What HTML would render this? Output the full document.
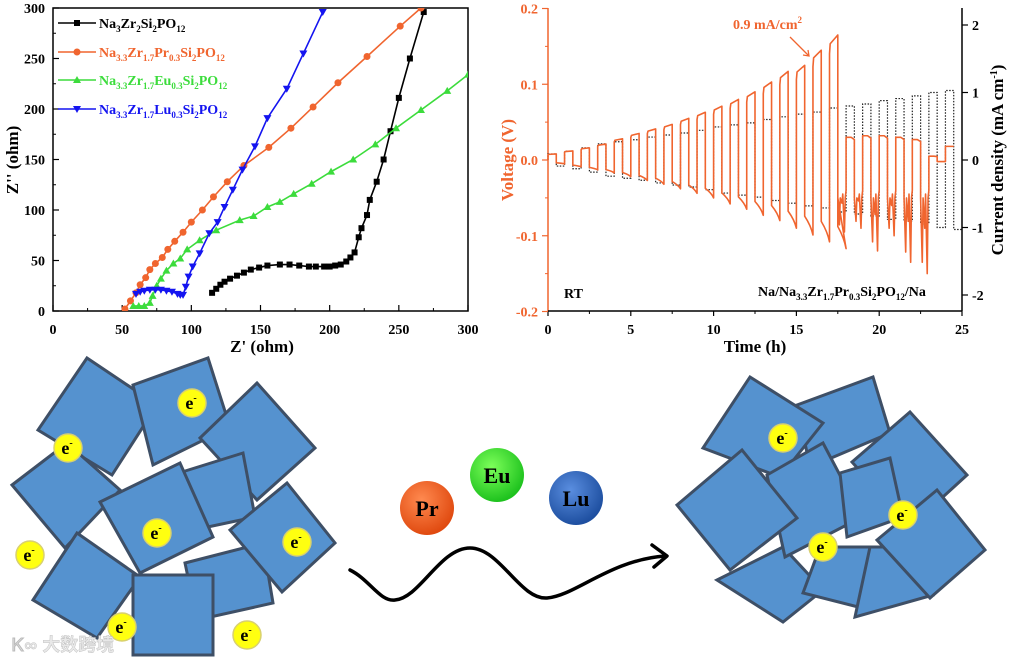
<!DOCTYPE html>
<html><head><meta charset="utf-8">
<style>
html,body{margin:0;padding:0;background:#fff;}
svg{display:block;font-family:"Liberation Serif",serif;font-weight:bold;}
</style></head>
<body>
<svg id="fig" width="1013" height="663" viewBox="0 0 1013 663" xmlns="http://www.w3.org/2000/svg">
<g id="eis"></g>
<g id="cyc"></g>
<g id="illus"></g>
</svg>
<script>
// ---------- EIS data (ohm) ----------
const blackX=[115,118,121,124,128,133,138,143,149,155,164,171,178,185,190,196,200,204,208,212,215,218,221,223,227,229,234,239,244,250,258,268];
const blackY=[18,22,26,29,32,35,38,41,43,45,46,46,45,44,44,44,44,45,46,49,53,58,73,82,95,110,128,150,178,211,250,296];
const orangeX=[52,56,60,63,67,70,74,79,83,88,94,100,108,116,126,138,156,172,188,206,227,251,266];
const orangeY=[2,10,18,26,33,41,47,53,61,69,78,88,100,113,128,144,162,181,202,226,252,282,300];
const greenX=[58,62,66,70,72,75,78,82,87,92,97,106,118,135,145,155,164,174,187,201,217,233,248,266,285,300];
const greenY=[5,5,5,8,15,25,32,40,47,52,61,70,80,90,94,103,108,116,126,138,150,165,181,199,218,234];
const blueX=[60,63,66,70,74,78,82,86,90,92,94,96,98,101,106,113,119,124,130,137,146,155,169,181,195];
const blueY=[17,19,20,21,21,21,20,19,17,16,16,24,34,44,57,77,88,103,120,140,163,191,220,255,296];
const eisTicks=[0,50,100,150,200,250,300];

// ---------- cycling data ----------
const posPeak=[0.008,0.012,0.016,0.021,0.028,0.035,0.041,0.047,0.055,0.063,0.071,0.080,0.090,0.103,0.117,0.125,0.145,0.165];
const negPeak=[-0.005,-0.009,-0.013,-0.017,-0.022,-0.027,-0.032,-0.038,-0.044,-0.050,-0.058,-0.065,-0.073,-0.080,-0.090,-0.099,-0.108,-0.117];
const currAmp=[0.09,0.13,0.18,0.24,0.27,0.30,0.34,0.37,0.40,0.44,0.49,0.52,0.55,0.60,0.64,0.68,0.71,0.77,0.80,0.83,0.88,0.91,0.95,1.00,1.03];
const postPlateau=[0.03,0.032,0.032,0.03,0.027,0.005,0.018];
const postSpike=[-0.095,-0.09,-0.12,-0.10,-0.135,-0.15,-0.002];
const timeTicks=[0,5,10,15,20,25];
const voltTicks=[0.2,0.1,0.0,-0.1,-0.2];
const currTicks=[2,1,0,-1,-2];

const NS="http://www.w3.org/2000/svg";
function mk(parent,tag,attrs,text){const e=document.createElementNS(NS,tag);for(const k in attrs)e.setAttribute(k,attrs[k]);if(text!==undefined)e.textContent=text;parent.appendChild(e);return e;}

// ===== EIS chart =====
const eis=document.getElementById('eis');
const lx=v=>53+v*415/300, ly=v=>311-v*303/300;
let fr=mk(eis,'rect',{x:53,y:8,width:415,height:303,fill:'none',stroke:'#000','stroke-width':1.5});


eisTicks.forEach((t,i)=>{
  let a=mk(eis,'line',{x1:lx(t),x2:lx(t),y1:311,y2:305,stroke:'#000','stroke-width':1.2});
  
  let tl=mk(eis,'text',{x:lx(t),y:334,'font-size':14,'text-anchor':'middle'},String(t));
  
  let b=mk(eis,'line',{x1:53,x2:59,y1:ly(t),y2:ly(t),stroke:'#000','stroke-width':1.2});
  
  let yl=mk(eis,'text',{x:45,y:ly(t)+5,'font-size':14,'text-anchor':'end'},String(t));
  
  if(i<eisTicks.length-1){const m=t+25;
    let c=mk(eis,'line',{x1:lx(m),x2:lx(m),y1:311,y2:308,stroke:'#000'});
    let d=mk(eis,'line',{x1:53,x2:56,y1:ly(m),y2:ly(m),stroke:'#000'});}
});
let xt=mk(eis,'text',{x:262,y:352,'font-size':17,'text-anchor':'middle'},"Z' (ohm)");

let yt=mk(eis,'text',{x:18,y:160,'font-size':17,'text-anchor':'middle',transform:'rotate(-90 18 160)'},"Z'' (ohm)");


function marker(g,type,x,y,col){
  let m;
  if(type==='sq') m=mk(g,'rect',{x:x-3,y:y-3,width:6,height:6,fill:col});
  else if(type==='ci') m=mk(g,'circle',{cx:x,cy:y,r:3.5,fill:col});
  else if(type==='up') m=mk(g,'path',{d:`M${x} ${y-4}L${x+4} ${y+3}L${x-4} ${y+3}Z`,fill:col});
  else m=mk(g,'path',{d:`M${x} ${y+4}L${x+4} ${y-3}L${x-4} ${y-3}Z`,fill:col});
  
  
}
const series=[
 {n:'na3zr2',X:blackX,Y:blackY,c:'#000',m:'sq'},
 {n:'pr-doped',X:orangeX,Y:orangeY,c:'#f0652f',m:'ci'},
 {n:'eu-doped',X:greenX,Y:greenY,c:'#3cdc3c',m:'up'},
 {n:'lu-doped',X:blueX,Y:blueY,c:'#1414f0',m:'dn'}];
const clip=mk(eis,'clipPath',{id:'eclip'});mk(clip,'rect',{x:53,y:8,width:415,height:303});
series.forEach(s=>{
  const g=mk(eis,'g',{'clip-path':'url(#eclip)'});
  
  
  const pl=mk(g,'polyline',{points:s.X.map((x,i)=>lx(x)+','+ly(s.Y[i])).join(' '),fill:'none',stroke:s.c,'stroke-width':1.6});
  
  s.X.forEach((x,i)=>marker(g,s.m,lx(x),ly(s.Y[i]),s.c));
});
// legend
const legendLbl=[['Na','3','Zr','2','Si','2','PO','12'],['Na','3.3','Zr','1.7','Pr','0.3','Si','2','PO','12'],['Na','3.3','Zr','1.7','Eu','0.3','Si','2','PO','12'],['Na','3.3','Zr','1.7','Lu','0.3','Si','2','PO','12']];
const legY=[23,52,80,109];
series.forEach((s,i)=>{
  const g=mk(eis,'g',{});
  
  
  mk(g,'line',{x1:58,x2:96,y1:legY[i],y2:legY[i],stroke:s.c,'stroke-width':1.6});
  marker(g,s.m,77,legY[i],s.c);
  const t=mk(g,'text',{x:99,y:legY[i]+5,'font-size':14,fill:s.c});
  legendLbl[i].forEach((p,j)=>{mk(t,'tspan',j%2?{'font-size':9,dy:4}:{dy:j?-4:0},p);});
});

// ===== cycling chart =====
const cyc=document.getElementById('cyc');
const rx=t=>548+t*414/25, rv=v=>160-v*757.5, rc=c=>160-c*67.5;
const OR='#f0652f';
let ax1=mk(cyc,'line',{x1:548,x2:548,y1:8,y2:311,stroke:OR,'stroke-width':1.5});
let ax2=mk(cyc,'line',{x1:962,x2:962,y1:8,y2:311,stroke:'#000','stroke-width':1.5});
let ax3=mk(cyc,'line',{x1:548,x2:962,y1:311,y2:311,stroke:'#000','stroke-width':1.5});
timeTicks.forEach(t=>{
  let a=mk(cyc,'line',{x1:rx(t),x2:rx(t),y1:311,y2:316,stroke:'#000','stroke-width':1.2});
  let l=mk(cyc,'text',{x:rx(t),y:334,'font-size':14,'text-anchor':'middle'},String(t));
  if(t<25){let m=mk(cyc,'line',{x1:rx(t+2.5),x2:rx(t+2.5),y1:311,y2:314,stroke:'#000'});}
});
voltTicks.forEach((v,i)=>{
  let a=mk(cyc,'line',{x1:542,x2:548,y1:rv(v),y2:rv(v),stroke:OR,'stroke-width':1.2});
  let l=mk(cyc,'text',{x:538,y:rv(v)+5,'font-size':14,'text-anchor':'end',fill:OR},v.toFixed(1));
  if(i<4){let m=mk(cyc,'line',{x1:545,x2:548,y1:rv(v-0.05),y2:rv(v-0.05),stroke:OR});}
});
currTicks.forEach(c=>{
  let a=mk(cyc,'line',{x1:962,x2:968,y1:rc(c),y2:rc(c),stroke:'#000','stroke-width':1.2});
  let l=mk(cyc,'text',{x:972,y:rc(c)+5,'font-size':14},String(c));
});
let tt=mk(cyc,'text',{x:755,y:352,'font-size':17,'text-anchor':'middle'},'Time (h)');
let vt=mk(cyc,'text',{x:513,y:160,'font-size':17,'text-anchor':'middle',fill:OR,transform:'rotate(-90 513 160)'},'Voltage (V)');
let ct=mk(cyc,'text',{x:1003,y:160,'font-size':17,'text-anchor':'middle',transform:'rotate(-90 1003 160)'});

mk(ct,'tspan',{},'Current density (mA cm');mk(ct,'tspan',{'font-size':10,dy:-6},'-1');mk(ct,'tspan',{dy:6},')');

// current (dotted)
let cp='M'+rx(0)+','+rc(0);
currAmp.forEach((c,k)=>{cp+=`L${rx(k)},${rc(c)}L${rx(k+0.5)},${rc(c)}L${rx(k+0.5)},${rc(-c)}L${rx(k+1)},${rc(-c)}`;});
let cpe=mk(cyc,'path',{d:cp,fill:'none',stroke:'#222','stroke-width':1.2,'stroke-dasharray':'1.5 1.5'});


// voltage
let vp='M'+rx(0)+','+rv(0);
posPeak.forEach((p,k)=>{
  const n=negPeak[k];
  vp+=`L${rx(k)},${rv(p*0.85)}L${rx(k+0.04)},${rv(p*0.93)}L${rx(k+0.5)},${rv(p)}`;
  vp+=`L${rx(k+0.5)},${rv(n*0.75)}C${rx(k+0.65)},${rv(n*0.8)} ${rx(k+0.88)},${rv(n*0.88)} ${rx(k+1)},${rv(n)}`;
});
const t0=posPeak.length;
postSpike.forEach((s,i)=>{
  const a=t0-0.5+i;
  if(i<6){
    vp+=`L${rx(a)},${rv(-0.05)}L${rx(a+0.1)},${rv(s*0.9)}L${rx(a+0.15)},${rv(-0.05)}L${rx(a+0.25)},${rv(s*0.6)}L${rx(a+0.3)},${rv(-0.045)}L${rx(a+0.4)},${rv(s)}L${rx(a+0.45)},${rv(-0.05)}L${rx(a+0.5)},${rv(-0.04)}`;
  } else {
    vp+=`L${rx(a)},${rv(s)}L${rx(a+0.5)},${rv(s)}`;
  }
  const pl=postPlateau[i];
  vp+=`L${rx(a+0.5)},${rv(pl)}L${rx(a+0.8)},${rv(pl)}L${rx(a+1)},${rv(pl*(i===6?1:0.9))}`;
});
let vpe=mk(cyc,'path',{d:vp,fill:'none',stroke:OR,'stroke-width':1.6,'stroke-linejoin':'round'});


let rt=mk(cyc,'text',{x:564,y:298,'font-size':14},'RT');
let cl=mk(cyc,'text',{x:758,y:296,'font-size':14});
[['Na/Na',0],['3.3',1],['Zr',0],['1.7',1],['Pr',0],['0.3',1],['Si',0],['2',1],['PO',0],['12',1],['/Na',0]].forEach(([p,s],j,arr)=>{
  const prev=j?arr[j-1][1]:0; let dy=0; if(s&&!prev)dy=4; if(!s&&prev)dy=-4;
  mk(cl,'tspan',s?{'font-size':9,dy:dy}:{dy:dy},p);});
let an=mk(cyc,'text',{x:733,y:29,'font-size':14,fill:OR});
mk(an,'tspan',{},'0.9 mA/cm');mk(an,'tspan',{'font-size':9,dy:-6},'2');
let ar=mk(cyc,'path',{d:'M790,37 L809,56 M803,55 L809,56 L808,50',fill:'none',stroke:OR,'stroke-width':1.3});

// ===== illustration =====
const il=document.getElementById('illus');
const defs=mk(il,'defs',{});
[['gPr','#ff8a50','#e04a10'],['gEu','#7dff5a','#1ec21e'],['gLu','#5a8ee0','#1e4fa0']].forEach(([id,a,b])=>{
  const g=mk(defs,'radialGradient',{id:id,cx:'40%',cy:'35%',r:'65%'});
  mk(g,'stop',{offset:'0','stop-color':a});mk(g,'stop',{offset:'1','stop-color':b});});
const leftSq=[
 [[87,358],[157,405],[112,475],[38,430]],
 [[133,385],[208,358],[230,427],[153,465]],
 [[257,383],[315,448],[257,500],[200,438]],
 [[12,485],[67,443],[120,490],[65,548]],
 [[182,472],[243,453],[255,517],[203,528]],
 [[185,563],[263,543],[273,603],[197,620]],
 [[230,530],[287,483],[335,543],[282,592]],
 [[100,502],[180,463],[213,537],[140,573]],
 [[33,600],[77,533],[140,577],[97,638]],
 [[133,575],[213,575],[213,655],[133,655]]];
const rightSq=[
 [[797,405],[873,377],[890,433],[810,467]],
 [[750,377],[823,423],[780,477],[703,448]],
 [[910,412],[967,475],[910,527],[852,462]],
 [[717,580],[783,547],[823,590],[783,622]],
 [[803,593],[820,547],[880,547],[870,610]],
 [[855,617],[870,547],[923,547],[933,595]],
 [[767,475],[823,443],[862,517],[785,557]],
 [[840,473],[890,458],[903,517],[847,537]],
 [[877,540],[937,490],[985,550],[930,598]],
 [[677,505],[742,450],[797,518],[730,570]]];
function squares(list,prefix){list.forEach((q,i)=>{
  const p=mk(il,'polygon',{points:q.map(a=>a.join(',')).join(' '),fill:'#5592cf',stroke:'#3e4f66','stroke-width':3,'stroke-linejoin':'miter'});
  });}
squares(leftSq,'left');squares(rightSq,'right');
const electrons=[[192,403],[68,448],[157,533],[297,542],[30,555],[122,627],[247,635],[783,438],[903,515],[823,547]];
electrons.forEach(([x,y])=>{
  const g=mk(il,'g',{});
  
  
  mk(g,'circle',{cx:x,cy:y,r:14,fill:'#ffff10',stroke:'#d8d070','stroke-width':1.5});
  const t=mk(g,'text',{x:x-1,y:y+6,'font-size':18,'text-anchor':'middle'});
  mk(t,'tspan',{},'e');mk(t,'tspan',{'font-size':10,dy:-8},'-');
});
[['Pr',427,508,'gPr'],['Eu',497,475,'gEu'],['Lu',576,498,'gLu']].forEach(([n,x,y,gid])=>{
  const g=mk(il,'g',{});
  
  
  mk(g,'circle',{cx:x,cy:y,r:27,fill:`url(#${gid})`});
  mk(g,'text',{x:x,y:y+8,'font-size':22,'text-anchor':'middle'},n);
});
let wv=mk(il,'path',{d:'M350,570 C370,580 380,602 395,600 C420,598 440,548 470,548 C500,548 520,600 547,598 C575,596 610,560 665,556 M652,545 L667,556 L654,567',fill:'none',stroke:'#000','stroke-width':3.5,'stroke-linecap':'round','stroke-linejoin':'round'});

let wm=mk(il,'text',{x:12,y:651,'font-size':18,fill:'#e8e8e8',stroke:'#bbb','stroke-width':0.4,'font-family':'"Liberation Sans","Noto Sans CJK SC",sans-serif'},'Ꮶ∞ 大数跨境');

</script>
</body></html>
